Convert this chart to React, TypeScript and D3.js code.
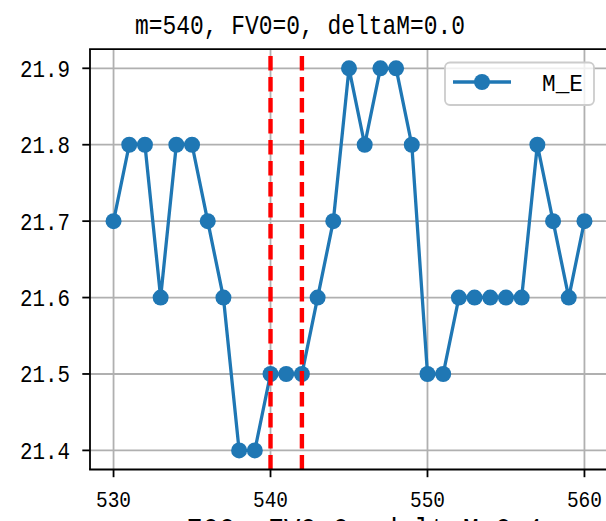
import React from "react";
import * as d3 from "d3";

const xs = [530, 531, 532, 533, 534, 535, 536, 537, 538, 539, 540, 541, 542, 543, 544, 545, 546, 547, 548, 549, 550, 551, 552, 553, 554, 555, 556, 557, 558, 559, 560];
const ME = [21.7, 21.8, 21.8, 21.6, 21.8, 21.8, 21.7, 21.6, 21.4, 21.4, 21.5, 21.5, 21.5, 21.6, 21.7, 21.9, 21.8, 21.9, 21.9, 21.8, 21.5, 21.5, 21.6, 21.6, 21.6, 21.6, 21.6, 21.8, 21.7, 21.6, 21.7];
const xTicks = [530, 540, 550, 560];
const yTicks = [21.4, 21.5, 21.6, 21.7, 21.8, 21.9];
const vLines = [540, 542];
const title = "m=540, FV0=0, deltaM=0.0";
const nextTitle = "m=700, FV0=0, deltaM=0.1";
const legendLabel = "M_E";

const W = 606;
const H = 521;
const L = 90, R = 608, T = 49.2, B = 469.5;
const FONT = "'Liberation Mono', 'DejaVu Sans Mono', monospace";
const BLUE = "#1f77b4";

export default function App() {
  const x = d3.scaleLinear().domain([528.5, 561.5]).range([L, R]);
  const y = d3.scaleLinear().domain([21.375, 21.925]).range([B, T]);
  const line = d3.line<number>().x((_, i) => x(xs[i])).y((d) => y(d));
  const pts = ME.map((v, i) => ({ x: xs[i], v }));

  return (
    <svg width={W} height={H} style={{ position: "absolute", left: 0, top: 0, background: "#fff" }}>
      <rect x={0} y={0} width={W} height={H} fill="#fff" />
      <defs>
        <clipPath id="clip">
          <rect x={L} y={T} width={R - L} height={B - T} />
        </clipPath>
      </defs>
      <g stroke="#b0b0b0" strokeWidth={1.8}>
        {xTicks.map((t) => (
          <line key={"gx" + t} x1={x(t)} x2={x(t)} y1={T} y2={B} />
        ))}
        {yTicks.map((t) => (
          <line key={"gy" + t} x1={L} x2={R} y1={y(t)} y2={y(t)} />
        ))}
      </g>
      <g clipPath="url(#clip)">
        <path d={line(ME) || ""} fill="none" stroke={BLUE} strokeWidth={3.3} strokeLinejoin="round" />
        {pts.map((p) => (
          <circle key={p.x} cx={x(p.x)} cy={y(p.v)} r={8} fill={BLUE} />
        ))}
        {vLines.map((v) => (
          <line key={"v" + v} x1={x(v)} x2={x(v)} y1={B} y2={T} stroke="red" strokeWidth={4.4} strokeDasharray="14.6,6.4" />
        ))}
      </g>
      <g stroke="#000" strokeWidth={1.8} fill="none">
        <line x1={L} x2={L} y1={T} y2={B} />
        <line x1={L - 0.9} x2={R} y1={B} y2={B} />
        <line x1={L - 0.9} x2={R} y1={T} y2={T} />
        <line x1={R} x2={R} y1={T} y2={B} />
      </g>
      <g stroke="#000" strokeWidth={1.8}>
        {xTicks.map((t) => (
          <line key={"tx" + t} x1={x(t)} x2={x(t)} y1={B} y2={B + 7.7} />
        ))}
        {yTicks.map((t) => (
          <line key={"ty" + t} x1={L - 7.7} x2={L} y1={y(t)} y2={y(t)} />
        ))}
      </g>
      <g fontFamily={FONT} fill="#000">
        {xTicks.map((t) => (
          <text key={"lx" + t} x={x(t)} y={507} fontSize={22.5} textAnchor="middle" textLength={35} lengthAdjust="spacingAndGlyphs">
            {String(t)}
          </text>
        ))}
        {yTicks.map((t) => (
          <text key={"ly" + t} x={70} y={y(t) + 8.5} fontSize={24.5} textAnchor="end" textLength={50} lengthAdjust="spacingAndGlyphs">
            {t.toFixed(1)}
          </text>
        ))}
      </g>
      <g>
        <rect x={445} y={62.5} width={149} height={42.5} rx={5} fill="#fff" fillOpacity={0.8} stroke="#cccccc" strokeWidth={1.8} />
        <line x1={453} x2={511} y1={82} y2={82} stroke={BLUE} strokeWidth={3.3} />
        <circle cx={482} cy={82} r={8} fill={BLUE} />
        <text x={542} y={91} fontFamily={FONT} fontSize={24.5} textLength={41} lengthAdjust="spacingAndGlyphs">
          {legendLabel}
        </text>
      </g>
      <text x={300} y={33.5} textAnchor="middle" fontFamily={FONT} fontSize={28} textLength={330} lengthAdjust="spacingAndGlyphs">
        {title}
      </text>
      <text x={349} y={540} textAnchor="middle" fontFamily={FONT} fontSize={31} textLength={390} lengthAdjust="spacingAndGlyphs">
        {nextTitle}
      </text>
    </svg>
  );
}
